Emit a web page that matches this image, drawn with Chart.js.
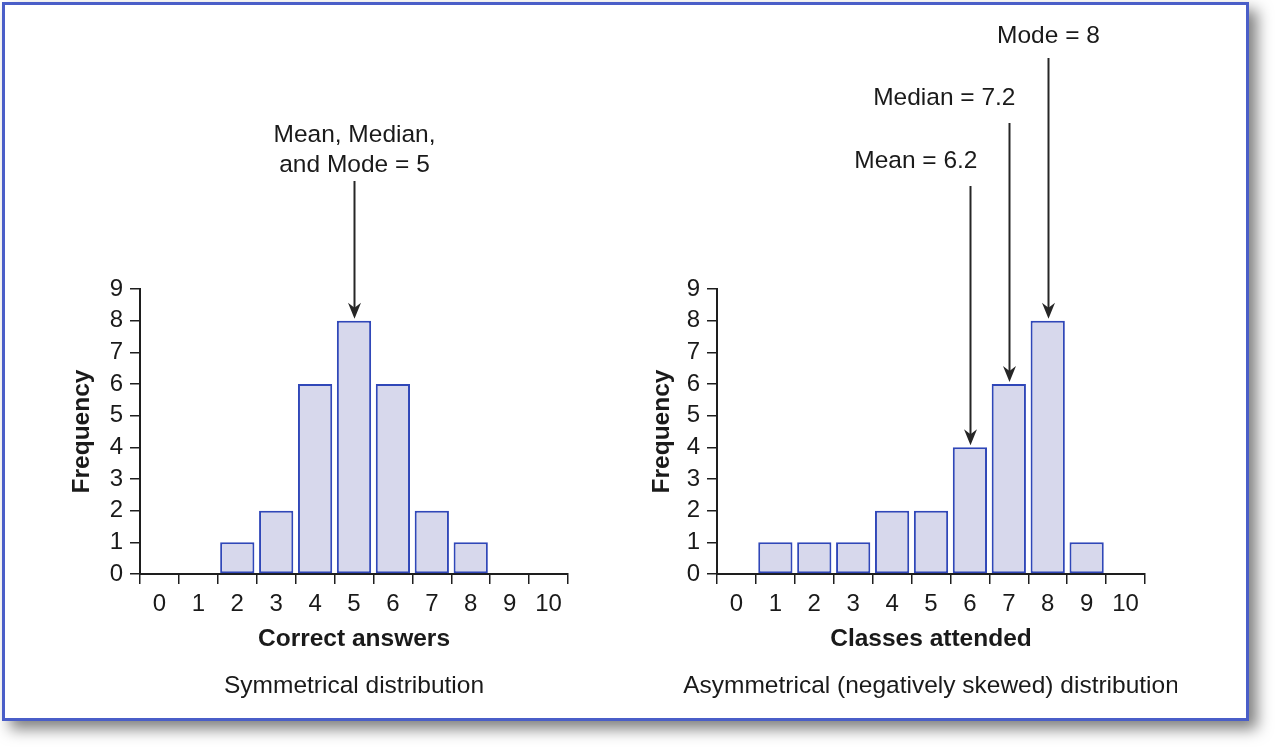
<!DOCTYPE html>
<html><head><meta charset="utf-8">
<script src="https://cdn.jsdelivr.net/npm/chart.js@4.4.1/dist/chart.umd.min.js"></script>
<style>
html,body{margin:0;padding:0;background:#fff;width:1275px;height:747px;overflow:hidden;}
#frame{position:absolute;left:2px;top:2px;width:1241px;height:713px;border:3px solid #4a5ec8;box-shadow:8px 8px 14px rgba(0,0,0,0.5);background:#fff;}
.wrap{position:absolute;top:0;width:600px;height:720px;}
canvas{display:block;}
</style></head><body>
<div id="frame"></div>
<div class="wrap" style="left:0px"><canvas id="c1" width="600" height="720"></canvas></div>
<div class="wrap" style="left:577px"><canvas id="c2" width="600" height="720"></canvas></div>
<script>
// ---- data ----
const correctAnswers = ['0','1','2','3','4','5','6','7','8','9','10'];
const symmetricalFrequency = [0,0,1,2,6,8,6,2,1,0,0];
const classesAttended = ['0','1','2','3','4','5','6','7','8','9','10'];
const skewedFrequency = [0,1,1,1,2,2,4,6,8,1,0];
const frequencyMin = 0;
const frequencyMax = 9;
const yAxisTitle = 'Frequency';
const leftXTitle = 'Correct answers';
const rightXTitle = 'Classes attended';
const leftCaption = 'Symmetrical distribution';
const rightCaption = 'Asymmetrical (negatively skewed) distribution';
const leftAnnotationText = [['Mean, Median,', 'and Mode = 5']];
const leftAnnotationCategory = [5];
const rightAnnotationText = [['Mode = 8'], ['Median = 7.2'], ['Mean = 6.2']];
const rightAnnotationCategory = [8, 7, 6];

// ---- styling / layout ----
const FONT = '"Liberation Sans", Arial, Helvetica, sans-serif';
const INK = '#1a1a1a';
const BAR_FILL = 'rgb(215,216,236)';
const BAR_BORDER = '#3047b8';

const annotPlugin = {
  id: 'annot',
  afterDraw(chart, args, opts) {
    const {ctx, chartArea, scales} = chart;
    const xs = scales.x, ys = scales.y;
    const data = chart.data.datasets[0].data;
    ctx.save();
    ctx.font = '24.5px ' + FONT;
    ctx.fillStyle = INK;
    ctx.textBaseline = 'middle';
    ctx.textAlign = 'center';
    ctx.fillText(opts.caption, (chartArea.left + chartArea.right) / 2, opts.captionY);
    opts.texts.forEach((lines, k) => {
      const cat = opts.cats[k];
      const lay = opts.layout[k];
      const px = Math.round(xs.getPixelForValue(cat)) + 0.5;
      const tipY = ys.getPixelForValue(data[cat]) - 2;
      ctx.strokeStyle = '#262626';
      ctx.fillStyle = '#262626';
      ctx.lineWidth = 2;
      ctx.beginPath();
      ctx.moveTo(px, lay.lineTop);
      ctx.lineTo(px, tipY - 8);
      ctx.stroke();
      ctx.beginPath();
      ctx.moveTo(px, tipY);
      ctx.lineTo(px - 6.5, tipY - 16);
      ctx.lineTo(px, tipY - 11);
      ctx.lineTo(px + 6.5, tipY - 16);
      ctx.closePath();
      ctx.fill();
      ctx.fillStyle = INK;
      ctx.textAlign = lay.align;
      lines.forEach((t, i) => ctx.fillText(t, px + lay.dx, lay.textY + i * 30));
    });
    ctx.restore();
  }
};

function makeChart(id, labels, values, xTitle, caption, texts, cats, layout, yTitlePad) {
  return new Chart(document.getElementById(id), {
    type: 'bar',
    data: {
      labels: labels,
      datasets: [{
        data: values,
        backgroundColor: BAR_FILL,
        borderColor: BAR_BORDER,
        borderWidth: 2,
        borderSkipped: false,
        barPercentage: 0.88,
        categoryPercentage: 1.0
      }]
    },
    options: {
      responsive: false,
      animation: false,
      devicePixelRatio: 1,
      layout: {padding: {left: 60, right: 32, top: 289, bottom: 64}},
      plugins: {
        legend: {display: false},
        tooltip: {enabled: false},
        annot: {caption: caption, captionY: 686, texts: texts, cats: cats, layout: layout}
      },
      scales: {
        x: {
          offset: true,
          grid: {offset: true, drawOnChartArea: false, drawTicks: true, tickLength: 10, color: '#1e1e1e', lineWidth: 1.5},
          border: {display: true, color: '#1e1e1e', width: 2},
          ticks: {color: INK, font: {family: FONT, size: 24}, padding: 6, maxRotation: 0, autoSkip: false},
          title: {display: true, text: xTitle, color: INK, font: {family: FONT, size: 24.5, weight: 'bold', lineHeight: 1.2}, padding: {top: 0, bottom: 2}},
          afterFit: s => { s.height = 82; }
        },
        y: {
          min: frequencyMin,
          max: frequencyMax,
          grid: {drawOnChartArea: false, drawTicks: true, tickLength: 10, color: '#1e1e1e', lineWidth: 1.5},
          border: {display: true, color: '#1e1e1e', width: 2},
          ticks: {stepSize: 1, autoSkip: false, color: INK, font: {family: FONT, size: 24, lineHeight: 1}, padding: 7},
          title: {display: true, text: yAxisTitle, color: INK, font: {family: FONT, size: 24.5, weight: 'bold', lineHeight: 1.2}, padding: {top: yTitlePad, bottom: 0}},
          afterFit: s => { s.width = 80; }
        }
      }
    },
    plugins: [annotPlugin]
  });
}

makeChart('c1', correctAnswers, symmetricalFrequency, leftXTitle, leftCaption,
  leftAnnotationText, leftAnnotationCategory,
  [{lineTop: 181, textY: 135, align: 'center', dx: 0}], 8);
makeChart('c2', classesAttended, skewedFrequency, rightXTitle, rightCaption,
  rightAnnotationText, rightAnnotationCategory,
  [{lineTop: 58, textY: 36, align: 'center', dx: 0},
   {lineTop: 123, textY: 98, align: 'right', dx: 6},
   {lineTop: 186, textY: 161, align: 'right', dx: 7}], 11);
</script>
</body></html>
